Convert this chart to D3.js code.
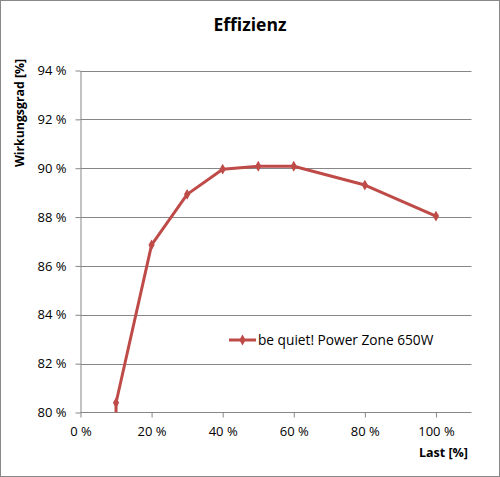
<!DOCTYPE html>
<html><head><meta charset="utf-8">
<script src="https://cdn.jsdelivr.net/npm/d3@7"></script>
<style>body{margin:0;background:#fff}svg{display:block}text{font-family:"Open Sans","Liberation Sans",sans-serif}</style>
</head><body><svg id="c" width="500" height="477"></svg>
<script>
const loads = [9.9, 10, 20, 30, 40, 50, 60, 80, 100];
const efficiency = [60, 80.4, 86.86, 88.93, 89.96, 90.08, 90.08, 89.31, 88.04];
const xTicks = [0, 20, 40, 60, 80, 100];
const yTicks = [80, 82, 84, 86, 88, 90, 92, 94];
const seriesName = "be quiet! Power Zone 650W";
const title = "Effizienz";
const xTitle = "Last [%]";
const yTitle = "Wirkungsgrad [%]";

const svg = d3.select("#c");
const W = 500, H = 477;
const m = {l: 80.5, r: 471.5, t: 70.5, b: 412.5};
const red = "#be4b48", grid = "#868686";

svg.append("rect").attr("x", 0.5).attr("y", 0.5).attr("width", W - 1).attr("height", H - 1)
  .attr("fill", "#fff").attr("stroke", "#888");

const x = d3.scaleLinear().domain([0, 110]).range([m.l, m.r]);
const y = d3.scaleLinear().domain([80, 94]).range([m.b, m.t]);

// gridlines
svg.append("g").selectAll("line").data(yTicks.filter(d => d > 80)).join("line")
  .attr("x1", m.l).attr("x2", m.r).attr("y1", d => Math.round(y(d)) + 0.5).attr("y2", d => Math.round(y(d)) + 0.5)
  .attr("stroke", grid).attr("stroke-width", 1);

// y axis
const ya = svg.append("g").attr("transform", `translate(${m.l},0)`)
  .call(d3.axisLeft(y).tickValues(yTicks).tickFormat(d => d + " %").tickSize(5).tickSizeOuter(0));
ya.select(".domain").attr("stroke", grid);
ya.selectAll(".tick line").attr("stroke", grid);
ya.selectAll(".tick text").attr("font-size", 13).attr("fill", "#000").attr("x", -14);

// x axis
const xa = svg.append("g").attr("transform", `translate(0,${m.b})`)
  .call(d3.axisBottom(x).tickValues(xTicks).tickFormat(d => d + " %").tickSize(5).tickSizeOuter(0));
xa.select(".domain").attr("stroke", grid).attr("d", `M${m.l},0H${m.r}`);
xa.selectAll(".tick line").attr("stroke", grid);
xa.selectAll(".tick text").attr("font-size", 13).attr("fill", "#000").attr("y", 14);

// clip
svg.append("clipPath").attr("id", "pc").append("rect")
  .attr("x", m.l).attr("y", m.t - 10).attr("width", m.r - m.l + 10).attr("height", m.b - m.t + 10);

const data = loads.map((l, i) => ({l, v: efficiency[i]}));
const line = d3.line().x(d => x(d.l)).y(d => y(d.v));
const g = svg.append("g").attr("clip-path", "url(#pc)");
g.append("path").datum(data).attr("d", line).attr("fill", "none")
  .attr("stroke", red).attr("stroke-width", 3).attr("stroke-linejoin", "round");

const marker = d3.symbol().type(d3.symbolDiamond).size(34);
g.selectAll(".mk").data(data.filter(d => d.v >= 80)).join("path")
  .attr("d", marker).attr("transform", d => `translate(${x(d.l)},${y(d.v)})`).attr("fill", red);

// legend
const ly = 340;
svg.append("line").attr("x1", 229).attr("x2", 256).attr("y1", ly).attr("y2", ly)
  .attr("stroke", red).attr("stroke-width", 3);
svg.append("path").attr("d", marker).attr("transform", `translate(242.5,${ly})`).attr("fill", red);
svg.append("text").attr("x", 258).attr("y", ly + 5).attr("font-size", 13.7).text(seriesName);

// titles
svg.append("text").attr("x", 250).attr("y", 31).attr("text-anchor", "middle")
  .attr("font-size", 17.5).attr("font-weight", "bold").text(title);
svg.append("text").attr("x", 468).attr("y", 457).attr("text-anchor", "end")
  .attr("font-size", 12.5).attr("font-weight", "bold").text(xTitle);
svg.append("text").attr("transform", "translate(24,113) rotate(-90)").attr("text-anchor", "middle")
  .attr("font-size", 12.3).attr("font-weight", "bold").text(yTitle);
</script></body></html>
